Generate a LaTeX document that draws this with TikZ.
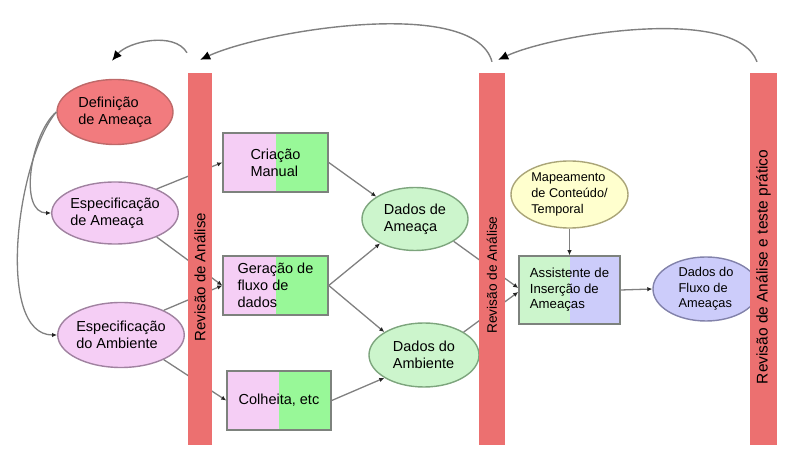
\documentclass[tikz,border=0pt]{standalone}
\usepackage{fontspec}
\setmainfont{Liberation Sans}
\usetikzlibrary{calc,shapes.geometric,arrows.meta}
\definecolor{barcor}{RGB}{236,112,112}
\definecolor{defcor}{RGB}{242,123,126}
\definecolor{defborda}{RGB}{190,105,105}
\definecolor{rosa}{RGB}{245,206,245}
\definecolor{rosaborda}{RGB}{160,130,160}
\definecolor{verde}{RGB}{152,248,152}
\definecolor{verdeclaro}{RGB}{204,245,204}
\definecolor{verdeborda}{RGB}{125,165,125}
\definecolor{lilas}{RGB}{204,204,250}
\definecolor{lilasborda}{RGB}{130,130,170}
\definecolor{amarelo}{RGB}{255,255,206}
\definecolor{amareloborda}{RGB}{170,165,120}
\definecolor{caixaborda}{RGB}{125,130,125}
\definecolor{linha}{RGB}{128,128,128}
\tikzset{
	oval/.style={ellipse, line width=1.4pt, inner sep=0pt, align=left, font=\fontsize{14.5}{17}\selectfont},
	caixa/.style n args={2}{rectangle, draw=caixaborda, line width=1.5pt, minimum width=105pt, minimum height=59pt, inner sep=0pt, align=left, font=\fontsize{14.5}{17}\selectfont,
		path picture={\fill[#1] (path picture bounding box.south west) rectangle (path picture bounding box.north);
			\fill[#2] (path picture bounding box.south) rectangle (path picture bounding box.north east);}},
	barra/.style={rectangle, fill=barcor, inner sep=0pt, minimum height=372pt},
	seta/.style={draw=linha, line width=1.3pt, -{Latex[length=5pt,width=4.5pt,color=black!85]}},
	retorno/.style={draw=linha, line width=1.4pt, -{Latex[length=10pt,width=9pt,color=black]}}
}

\begin{document}
\begin{tikzpicture}[x=1pt, y=1pt]
				\useasboundingbox (0, 0) rectangle (807, 463);
				
				\node[oval, fill=defcor, draw=defborda, minimum width=116pt, minimum height=65pt] (definicao) at (115, 351) {Definição\\de Ameaça};
				\node[oval, fill=rosa, draw=rosaborda, minimum width=116pt, minimum height=62pt] (espameaca) at (115, 250) {Especificação\\de Ameaça};
				\node[oval, fill=rosa, draw=rosaborda, minimum width=117pt, minimum height=65pt] (espambiente) at (121, 128) {Especificação\\do Ambiente};
				
				\node[caixa={rosa}{verde}] (criacao) at (275.5, 300.5) {Criação\\Manual};
				\node[caixa={rosa}{verde}] (geracao) at (275.5, 177.5) {Geração de\\fluxo de\\dados};
				\node[caixa={rosa}{verde}, minimum width=104pt] (colheita) at (279, 62.5) {Colheita, etc};
				
				\node[oval, fill=verdeclaro, draw=verdeborda, minimum width=106pt, minimum height=63pt] (dadosameaca) at (415, 244) {Dados de\\Ameaça};
				\node[oval, fill=verdeclaro, draw=verdeborda, minimum width=110pt, minimum height=64pt] (dadosambiente) at (424, 108) {Dados do\\Ambiente};
				
				\node[oval, fill=amarelo, draw=amareloborda, minimum width=117pt, minimum height=67pt, font=\fontsize{12.7}{16}\selectfont] (mapeamento) at (569.5, 268.5) {Mapeamento\\de Conteúdo/\\Temporal};
				\node[caixa={verdeclaro}{lilas}, minimum width=101pt, minimum height=68pt, font=\fontsize{13.2}{15.5}\selectfont] (assistente) at (569.5, 173) {Assistente de\\Inserção de\\Ameaças};
				\node[oval, fill=lilas, draw=lilasborda, minimum width=106pt, minimum height=64pt, font=\fontsize{12.8}{15.5}\selectfont] (fluxo) at (706, 174) {Dados do\\Fluxo de\\Ameaças};
				
				\draw[seta] (definicao.west) to[out=220, in=180, looseness=0.84] (espameaca.west);
				\draw[seta] (definicao.west) to[out=230, in=180, looseness=0.71] (espambiente.west);
				\draw[seta] (espameaca.30) -- (criacao.west);
				\draw[seta] (espameaca.-30) -- (geracao.west);
				\draw[seta] (espambiente.30) -- (geracao.west);
				\draw[seta] (espambiente.-30) -- (colheita.west);
				\draw[seta] (criacao.east) -- (dadosameaca.150);
				\draw[seta] (geracao.east) -- (dadosameaca.215);
				\draw[seta] (geracao.east) -- (dadosambiente.150);
				\draw[seta] (colheita.east) -- (dadosambiente.210);
				\draw[seta] (dadosameaca.-30) -- ([yshift=2pt]assistente.west);
				\draw[seta] (dadosambiente.30) -- ([yshift=-2pt]assistente.west);
				\draw[seta] (mapeamento.south) -- (assistente.north);
				\draw[seta] (assistente.east) -- (fluxo.west);
				
				\node[barra, minimum width=24pt] (barra1) at (200, 204) {};
				\node[barra, minimum width=26pt] (barra2) at (492, 204) {};
				\node[barra, minimum width=27pt] (barra3) at (763.5, 204) {};
				
				\node[rotate=90, font=\fontsize{15}{17}\selectfont] (rotulo1) at ([yshift=-18pt]barra1.center) {Revisão de Análise};
				\node[rotate=90, font=\fontsize{13.7}{16}\selectfont] (rotulo2) at ([yshift=-16pt]barra2.center) {Revisão de Análise};
				\node[rotate=90, font=\fontsize{15.5}{17}\selectfont] (rotulo3) at ([yshift=-8pt]barra3.center) {Revisão de Análise e teste prático};
				
				\coordinate (r1a) at ([xshift=-13pt, yshift=20pt]barra1.north);
				\coordinate (r1b) at ([xshift=-3pt, yshift=18pt]definicao.north);
				\coordinate (r2a) at ([yshift=11pt]barra2.north);
				\coordinate (r2b) at ([xshift=-12pt, yshift=13pt]barra1.north east);
				\coordinate (r3a) at ([xshift=-6.5pt, yshift=11pt]barra3.north);
				\coordinate (r3b) at ([xshift=-7pt, yshift=13pt]barra2.north east);
				
				\draw[retorno] (r1a) to[out=120, in=50, looseness=0.85] (r1b);
				\draw[retorno] (r2a) to[out=105, in=25, looseness=0.6] (r2b);
				\draw[retorno] (r3a) to[out=110, in=25, looseness=0.6] (r3b);
\end{tikzpicture}
\end{document}
